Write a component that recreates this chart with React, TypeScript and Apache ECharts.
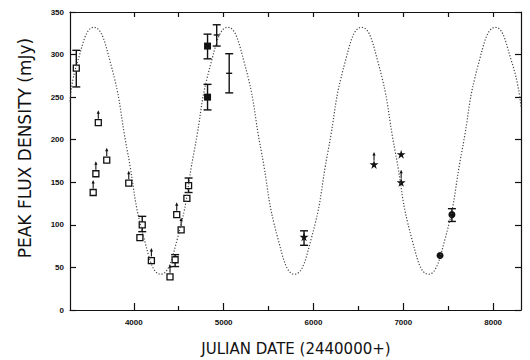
import React, { useEffect, useRef } from "react";
import * as echarts from "echarts";

// Model light curve
const curveX = [3290, 3369, 3555, 3741, 3928, 4114, 4300, 4486, 4673, 4859, 5045, 5231, 5418, 5604, 5790, 5976, 6163, 6349, 6535, 6721, 6908, 7094, 7280, 7466, 7653, 7839, 8025, 8211, 8310];
const curveY = [245, 290, 332, 290, 187, 84, 42, 84, 187, 290, 332, 290, 187, 84, 42, 84, 187, 290, 332, 290, 187, 84, 42, 84, 187, 290, 332, 290, 239];

// Observations
const openSquares: number[][] = [
  [3360, 284], [3548, 138], [3578, 160], [3605, 220], [3699, 176], [3944, 149],
  [4068, 85], [4094, 100], [4196, 58], [4403, 39], [4460, 59], [4478, 112],
  [4527, 94], [4591, 131], [4610, 146],
];
const filledSquares: number[][] = [[4821, 310], [4821, 250]];
const stars: number[][] = [[5895, 86], [6674, 171], [6976, 150], [6976, 183]];
const filledCircles: number[][] = [[7409, 64], [7541, 112]];
// lower limits (upward arrows)
const lowerLimits: number[][] = [
  [3548, 138], [3578, 160], [3605, 220], [3699, 176], [3944, 149], [4196, 58],
  [4403, 39], [4478, 112], [4527, 94], [6674, 171], [6976, 150],
];
// error bars [x, low, high]
const errorBars: number[][] = [
  [3360, 262, 305], [4094, 92, 110], [4460, 51, 65], [4610, 138, 155],
  [4821, 295, 324], [4821, 235, 265], [5895, 76, 93], [7541, 104, 119],
];
// error bars without marker, centre tick [x, low, high, mid]
const plusBars: number[][] = [[4923, 310, 335, 323], [5062, 255, 301, 278]];

const majorTicks = [4000, 5000, 6000, 7000, 8000];
const minorTicks = [4500, 5500, 6500, 7500];
const allXTicks = [4000, 4500, 5000, 5500, 6000, 6500, 7000, 7500, 8000];

const X_MIN = 3290;
const X_MAX = 8310;
const INK = "#111";

const starPath = "path://M50,0 L61,35 L98,35 L68,57 L79,91 L50,70 L21,91 L32,57 L2,35 L39,35 Z";

export default function App() {
  const ref = useRef<HTMLDivElement>(null);
  useEffect(() => {
    if (!ref.current) return;
    const chart = echarts.init(ref.current, null, { renderer: "svg" });
    const tickFont = { fontFamily: "Liberation Sans", fontSize: 8, fontWeight: "bold" as const, color: INK };
    const plain = (v: number) => String(v);
    const xBase = {
      type: "value" as const,
      min: X_MIN,
      max: X_MAX,
      splitLine: { show: false },
    };
    const yBase = {
      type: "value" as const,
      min: 0,
      max: 350,
      interval: 50,
      splitLine: { show: false },
    };
    chart.setOption({
      animation: false,
      backgroundColor: "#fff",
      grid: { left: 70, right: 9, top: 12, bottom: 50, containLabel: false },
      xAxis: [
        {
          ...xBase,
          position: "bottom",
          axisLine: { show: true, lineStyle: { color: INK, width: 1.2 } },
          axisTick: { show: true, inside: true, length: 7, customValues: majorTicks, lineStyle: { color: INK, width: 1.2 } },
          axisLabel: { show: true, customValues: majorTicks, margin: 8, formatter: plain, ...tickFont },
        },
        {
          ...xBase,
          position: "bottom",
          axisLine: { show: false },
          axisTick: { show: true, inside: true, length: 4, customValues: minorTicks, lineStyle: { color: INK, width: 1.2 } },
          axisLabel: { show: false },
        },
        {
          ...xBase,
          position: "top",
          axisLine: { show: true, lineStyle: { color: INK, width: 1.2 } },
          axisTick: { show: true, inside: true, length: 5, customValues: allXTicks, lineStyle: { color: INK, width: 1.2 } },
          axisLabel: { show: false },
        },
      ],
      yAxis: [
        {
          ...yBase,
          position: "left",
          axisLine: { show: true, lineStyle: { color: INK, width: 1.2 } },
          axisTick: { show: true, inside: true, length: 6, lineStyle: { color: INK, width: 1.2 } },
          axisLabel: { show: true, margin: 6, formatter: plain, ...tickFont },
        },
        {
          ...yBase,
          position: "right",
          axisLine: { show: true, lineStyle: { color: INK, width: 1.2 } },
          axisTick: { show: true, inside: true, length: 6, lineStyle: { color: INK, width: 1.2 } },
          axisLabel: { show: false },
        },
      ],
      graphic: [
        {
          type: "text",
          x: 25,
          y: 148,
          rotation: Math.PI / 2,
          style: { text: "PEAK FLUX DENSITY (mJy)", font: "17px DejaVu Sans", fill: INK, textAlign: "center", textVerticalAlign: "middle" },
        },
        {
          type: "text",
          x: 296,
          y: 349,
          style: { text: "JULIAN DATE (2440000+)", font: "15px DejaVu Sans", fill: INK, textAlign: "center", textVerticalAlign: "middle" },
        },
      ],
      series: [
        {
          type: "line",
          data: curveX.map((x, i) => [x, curveY[i]]),
          smooth: 0.5,
          symbol: "none",
          lineStyle: { color: "#444", width: 1.2, type: [1.2, 1.8] },
          silent: true,
        },
        {
          type: "custom",
          data: errorBars,
          renderItem: (params: any, api: any) => {
            const x = api.value(0);
            const lo = api.coord([x, api.value(1)]);
            const hi = api.coord([x, api.value(2)]);
            const w = 4;
            const st = { stroke: INK, lineWidth: 1.4 };
            return {
              type: "group",
              children: [
                { type: "line", shape: { x1: lo[0], y1: lo[1], x2: hi[0], y2: hi[1] }, style: st },
                { type: "line", shape: { x1: lo[0] - w, y1: lo[1], x2: lo[0] + w, y2: lo[1] }, style: st },
                { type: "line", shape: { x1: hi[0] - w, y1: hi[1], x2: hi[0] + w, y2: hi[1] }, style: st },
              ],
            };
          },
        },
        {
          type: "custom",
          data: plusBars,
          renderItem: (params: any, api: any) => {
            const x = api.value(0);
            const lo = api.coord([x, api.value(1)]);
            const hi = api.coord([x, api.value(2)]);
            const mid = api.coord([x, api.value(3)]);
            const w = 4;
            const st = { stroke: INK, lineWidth: 1.4 };
            return {
              type: "group",
              children: [
                { type: "line", shape: { x1: lo[0], y1: lo[1], x2: hi[0], y2: hi[1] }, style: st },
                { type: "line", shape: { x1: lo[0] - w, y1: lo[1], x2: lo[0] + w, y2: lo[1] }, style: st },
                { type: "line", shape: { x1: hi[0] - w, y1: hi[1], x2: hi[0] + w, y2: hi[1] }, style: st },
                { type: "line", shape: { x1: mid[0] - 3, y1: mid[1], x2: mid[0] + 3, y2: mid[1] }, style: st },
              ],
            };
          },
        },
        {
          type: "custom",
          data: lowerLimits,
          renderItem: (params: any, api: any) => {
            const p = api.coord([api.value(0), api.value(1)]);
            const st = { stroke: INK, lineWidth: 1.1 };
            return {
              type: "group",
              children: [
                { type: "line", shape: { x1: p[0], y1: p[1] - 4, x2: p[0], y2: p[1] - 10 }, style: st },
                { type: "polygon", shape: { points: [[p[0] - 1.6, p[1] - 9], [p[0] + 1.6, p[1] - 9], [p[0], p[1] - 12.5]] }, style: { fill: INK } },
              ],
            };
          },
        },
        {
          type: "scatter",
          data: openSquares,
          symbol: "rect",
          symbolSize: 6,
          itemStyle: { color: "#fff", borderColor: INK, borderWidth: 1.3, opacity: 1 },
        },
        {
          type: "scatter",
          data: filledSquares,
          symbol: "rect",
          symbolSize: 7,
          itemStyle: { color: INK, opacity: 1 },
        },
        {
          type: "scatter",
          data: stars,
          symbol: starPath,
          symbolSize: 9,
          itemStyle: { color: INK, opacity: 1 },
        },
        {
          type: "scatter",
          data: filledCircles,
          symbol: "circle",
          symbolSize: 7,
          itemStyle: { color: INK, opacity: 1 },
        },
      ],
    });
    return () => chart.dispose();
  }, []);
  return <div ref={ref} style={{ position: "absolute", left: 0, top: 0, width: 530, height: 360, background: "#fff" }} />;
}
